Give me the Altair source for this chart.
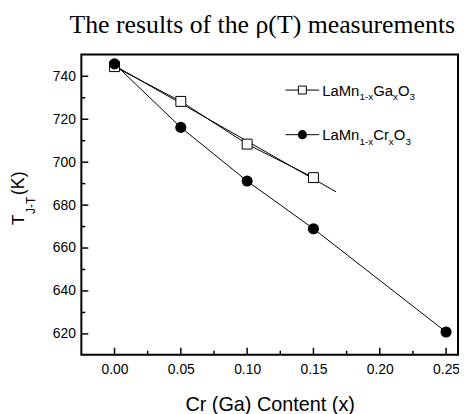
import altair as alt
import pandas as pd

# ---- data ----
ga_x = [0.00, 0.05, 0.10, 0.15]
ga_y = [744.5, 728.3, 708.4, 692.8]
cr_x = [0.00, 0.05, 0.10, 0.15, 0.25]
cr_y = [745.8, 716.2, 691.2, 669.0, 620.9]
fit_x = [0.0, 0.167]
fit_y = [745.0, 686.2]
x_ticks = [0.00, 0.05, 0.10, 0.15, 0.20, 0.25]
x_minor = [0.025, 0.075, 0.125, 0.175, 0.225]
y_ticks = [620, 640, 660, 680, 700, 720, 740]
y_minor = [630, 650, 670, 690, 710, 730]

W, H = 380, 303
FONT = "Liberation Sans"

ga = pd.DataFrame({"x": ga_x, "y": ga_y})
cr = pd.DataFrame({"x": cr_x, "y": cr_y})
fit = pd.DataFrame({"x": fit_x, "y": fit_y})

xs = alt.Scale(domain=[-0.025, 0.259], nice=False, zero=False)
ys = alt.Scale(domain=[610.3, 750.2], nice=False, zero=False)

xax = alt.Axis(values=x_ticks, format=".2f", ticks=False, domain=False, grid=False,
               labelFont=FONT, labelFontSize=14, labelColor="black", labelPadding=8,
               title="Cr (Ga) Content (x)", titleFont=FONT, titleFontSize=20,
               titleFontWeight="normal", titleColor="black", titlePadding=18)
yax = alt.Axis(values=y_ticks, ticks=False, domain=False, grid=False,
               labelFont=FONT, labelFontSize=14, labelColor="black", labelPadding=6,
               title="")

X = alt.X("x:Q", scale=xs, axis=xax)
Y = alt.Y("y:Q", scale=ys, axis=yax)

ga_line = alt.Chart(ga).mark_line(color="black", strokeWidth=1).encode(x=X, y=Y)
fit_line = alt.Chart(fit).mark_line(color="black", strokeWidth=1).encode(x=X, y=Y)
cr_line = alt.Chart(cr).mark_line(color="black", strokeWidth=1).encode(x=X, y=Y)
ga_pts = alt.Chart(ga).mark_point(shape="square", size=100, filled=False, fill="white",
                                  fillOpacity=1, stroke="black", strokeWidth=1,
                                  opacity=1).encode(x=X, y=Y)
cr_pts = alt.Chart(cr).mark_point(shape="circle", size=125, filled=True, color="black",
                                  opacity=1).encode(x=X, y=Y)

def xtick(vals, length):
    d = pd.DataFrame({"x": vals})
    return alt.Chart(d).mark_rule(color="black", strokeWidth=1.5).encode(
        x=alt.X("x:Q", scale=xs), y=alt.value(H), y2=alt.value(H - length))

def ytick(vals, length):
    d = pd.DataFrame({"y": vals})
    return alt.Chart(d).mark_rule(color="black", strokeWidth=1.5).encode(
        y=alt.Y("y:Q", scale=ys), x=alt.value(0), x2=alt.value(length))

one = pd.DataFrame({"a": [0]})

def txt(s, x, y, size, font=FONT, angle=0):
    kw = dict(text=s, align="left", baseline="alphabetic", font=font,
              fontSize=size, color="black")
    if angle:
        kw["angle"] = angle
    return alt.Chart(one).mark_text(**kw).encode(x=alt.value(x), y=alt.value(y))

def seg(x1, x2, y):
    return alt.Chart(one).mark_rule(color="black", strokeWidth=1).encode(
        x=alt.value(x1), x2=alt.value(x2), y=alt.value(y))

def sym(x, y, shape, size, filled):
    if filled:
        m = alt.Chart(one).mark_point(shape=shape, size=size, filled=True, color="black", opacity=1)
    else:
        m = alt.Chart(one).mark_point(shape=shape, size=size, filled=False, fill="white",
                                      fillOpacity=1, stroke="black", strokeWidth=1, opacity=1)
    return m.encode(x=alt.value(x), y=alt.value(y))

legend = [
    seg(206, 240, 36), sym(223, 36, "square", 64, False),
    txt("LaMn", 243, 41.5, 15), txt("1-x", 280.5, 46, 10), txt("Ga", 294.4, 41.5, 15),
    txt("x", 314.4, 46, 10), txt("O", 319.4, 41.5, 15), txt("3", 331.1, 46, 10),
    seg(206, 240, 81), sym(223, 81, "circle", 85, True),
    txt("LaMn", 243, 86.5, 15), txt("1-x", 280.5, 91, 10), txt("Cr", 294.4, 86.5, 15),
    txt("x", 310.2, 91, 10), txt("O", 315.2, 86.5, 15), txt("3", 326.9, 91, 10),
]

ytitle = [
    txt("T", -58, 172, 17, angle=270),
    txt("J-T", -47, 161, 12, angle=270),
    txt("(K)", -58, 142, 18, angle=270),
]

top_text = txt("The results of the \u03c1(T) measurements", -12, -22, 26,
               font="Liberation Serif")

chart = alt.layer(
    ga_line, fit_line, cr_line, ga_pts, cr_pts,
    xtick(x_ticks, 7), xtick(x_minor, 4), ytick(y_ticks, 7), ytick(y_minor, 4),
    *legend, *ytitle, top_text,
).properties(
    width=W, height=H,
    background="white",
    autosize=alt.AutoSizeParams(type="none"),
    padding={"left": 74, "top": 45, "right": 1, "bottom": 58},
).configure_view(stroke="black", strokeWidth=2)

chart.save("out.html", embed_options={"renderer": "svg", "actions": False})
